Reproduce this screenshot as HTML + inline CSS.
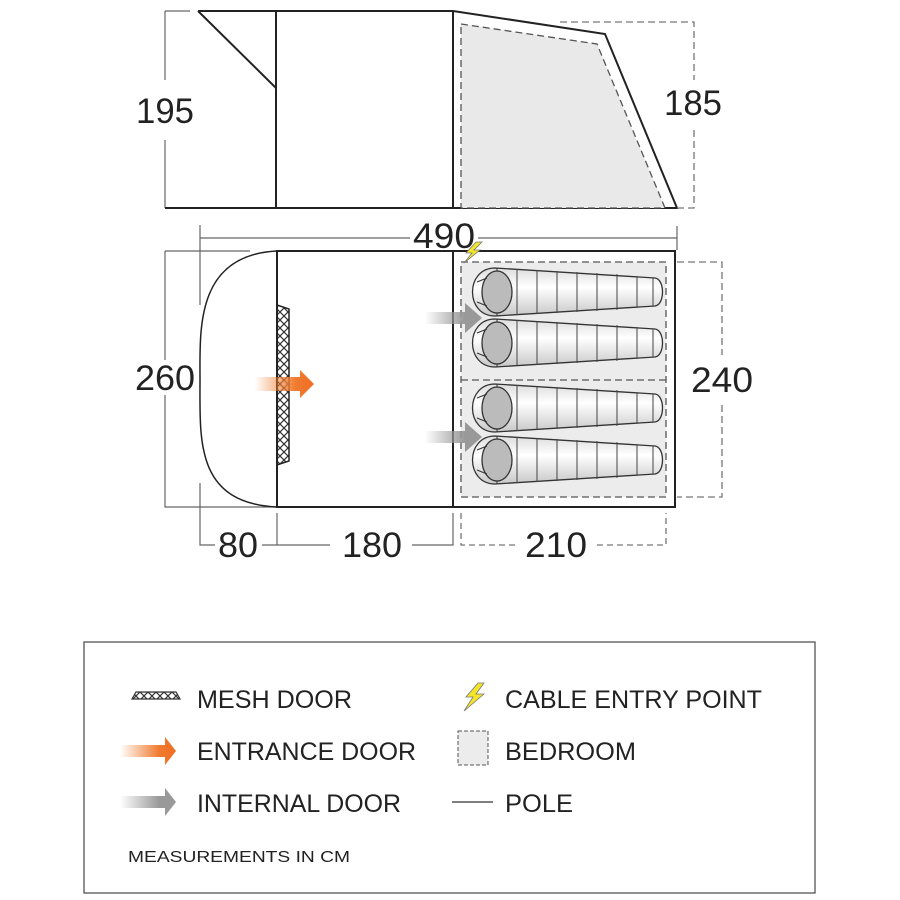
<!DOCTYPE html>
<html><head><meta charset="utf-8"><style>body{margin:0;background:#fff}svg{display:block}</style></head>
<body>
<svg width="900" height="900" viewBox="0 0 900 900" xmlns="http://www.w3.org/2000/svg" font-family="Liberation Sans, sans-serif">
<defs>
<linearGradient id="og" x1="0" x2="1"><stop offset="0" stop-color="#f07a2e" stop-opacity="0"/><stop offset="0.7" stop-color="#f07a2e"/><stop offset="1" stop-color="#ee6f22"/></linearGradient>
<linearGradient id="gg" x1="0" x2="1"><stop offset="0" stop-color="#999" stop-opacity="0"/><stop offset="0.7" stop-color="#999"/><stop offset="1" stop-color="#999"/></linearGradient>
<linearGradient id="bag" x1="0" y1="0" x2="0" y2="1"><stop offset="0" stop-color="#ddd"/><stop offset="0.4" stop-color="#fff"/><stop offset="1" stop-color="#c8c8c8"/></linearGradient>
<pattern id="mesh" width="8" height="8" patternUnits="userSpaceOnUse"><path d="M0 0L8 8M8 0L0 8" stroke="#333" stroke-width="1.2"/></pattern>
<g id="sb">
<path d="M0 -24 C-30 -24 -30 24 0 24 L160 14 C170 13 170 -13 160 -14 Z" fill="url(#bag)" stroke="#333" stroke-width="1.3"/>
<ellipse cx="2" cy="0" rx="15" ry="21" fill="#bbb" stroke="#333" stroke-width="1.3"/>
<path d="M-18 -10L-8 -14M-18 10L-8 14M2 -24V-21M2 21V24" stroke="#333"/>
<path d="M22 -23V23M42 -22V22M62 -21V21M82 -20V20M102 -19V19M122 -18V18M142 -16V16M158 -14V14" stroke="#444" stroke-width="1"/>
</g>
</defs>
<g fill="none" stroke="#222">
<path d="M165 11H190M165 11V80M165 140V208" stroke="#666" stroke-width="1.2"/>
<path d="M198 11H453L605 34L677 208H165M198 11L276 88M276 11V208M453 11V208" stroke-width="2"/>
<path d="M461 24L597 44L665 208H461Z" fill="#e9e9e9" stroke="#555" stroke-width="1.3" stroke-dasharray="7 4"/>
<path d="M560 22H694V208H677" stroke="#777" stroke-width="1.3" stroke-dasharray="7 4"/>
<path d="M694 80V130" stroke="#fff" stroke-width="4"/>
<path d="M200 238H410M478 238H677M200 225V305M677 226V250" stroke="#666" stroke-width="1.2"/>
<path d="M165 251H250M165 251V360M165 395V507H453" stroke="#666" stroke-width="1.2"/>
<path d="M277 251C195 255 200 330 200 380C200 440 195 503 277 507" stroke-width="1.5"/>
<path d="M277 251H675V507H277ZM277 251V507M453 251V507" stroke-width="2"/>
<rect x="461" y="262" width="205" height="235" fill="#ececec" stroke="#555" stroke-width="1.3" stroke-dasharray="7 4"/>
<path d="M461 380H666" stroke="#555" stroke-width="1.3" stroke-dasharray="7 4"/>
<path d="M677 262H722V355M722 405V497H677" stroke="#777" stroke-width="1.3" stroke-dasharray="7 4"/>
<path d="M200 483V545H215M262 545H277M277 513V545H330M412 545H453V513" stroke="#666" stroke-width="1.2"/>
<path d="M461 513V545H515M597 545H666V513" stroke="#777" stroke-width="1.3" stroke-dasharray="6 4"/>
</g>
<path d="M277 305L289 309V461L277 465Z" fill="url(#mesh)" stroke="#222" stroke-width="1.5"/>
<path d="M255 377H300V370L314 384L300 398V391H255Z" fill="url(#og)"/>
<path d="M425 312H465V303L482 318L465 333V324H425Z" fill="url(#gg)"/>
<path d="M425 431H465V422L482 437L465 452V443H425Z" fill="url(#gg)"/>
<use href="#sb" x="495" y="292"/><use href="#sb" x="495" y="343"/><use href="#sb" x="495" y="408"/><use href="#sb" x="495" y="460"/>
<path d="M476 242L466 253H472L464 263L480 250H474L482 242Z" fill="#f3e62a" stroke="#777" stroke-width="0.8"/>
<g font-size="35" fill="#222" text-anchor="middle">
<text x="165" y="123" textLength="58" lengthAdjust="spacingAndGlyphs">195</text>
<text x="693" y="115" textLength="58" lengthAdjust="spacingAndGlyphs">185</text>
<text x="444" y="248" textLength="62" lengthAdjust="spacingAndGlyphs">490</text>
<text x="165" y="390" textLength="60" lengthAdjust="spacingAndGlyphs">260</text>
<text x="722" y="392" textLength="62" lengthAdjust="spacingAndGlyphs">240</text>
<text x="238" y="557" textLength="40" lengthAdjust="spacingAndGlyphs">80</text>
<text x="372" y="557" textLength="60" lengthAdjust="spacingAndGlyphs">180</text>
<text x="556" y="557" textLength="62" lengthAdjust="spacingAndGlyphs">210</text>
</g>
<rect x="84" y="642" width="731" height="251" fill="none" stroke="#555" stroke-width="1.3"/>
<path d="M132 699L136 692H176L180 699Z" fill="url(#mesh)" stroke="#333" stroke-width="1.2"/>
<path d="M120 745H165V737L176 751L165 765V757H120Z" fill="url(#og)"/>
<path d="M120 796H165V788L176 802L165 816V808H120Z" fill="url(#gg)"/>
<path d="M478 683L466 697H473L464 711L484 694H476L484 683Z" fill="#f3e62a" stroke="#777" stroke-width="0.8"/>
<rect x="458" y="731" width="30" height="34" fill="#ececec" stroke="#555" stroke-dasharray="4 2"/>
<path d="M452 802H493" stroke="#555" stroke-width="1.5"/>
<g font-size="25" fill="#222">
<text x="197" y="708" textLength="155" lengthAdjust="spacingAndGlyphs">MESH DOOR</text>
<text x="197" y="760" textLength="219" lengthAdjust="spacingAndGlyphs">ENTRANCE DOOR</text>
<text x="197" y="812" textLength="204" lengthAdjust="spacingAndGlyphs">INTERNAL DOOR</text>
<text x="505" y="708" textLength="257" lengthAdjust="spacingAndGlyphs">CABLE ENTRY POINT</text>
<text x="505" y="760" textLength="131" lengthAdjust="spacingAndGlyphs">BEDROOM</text>
<text x="505" y="812" textLength="68" lengthAdjust="spacingAndGlyphs">POLE</text>
</g>
<text x="128" y="862" font-size="16" fill="#222" textLength="222" lengthAdjust="spacingAndGlyphs">MEASUREMENTS IN CM</text>
</svg>
</body></html>
